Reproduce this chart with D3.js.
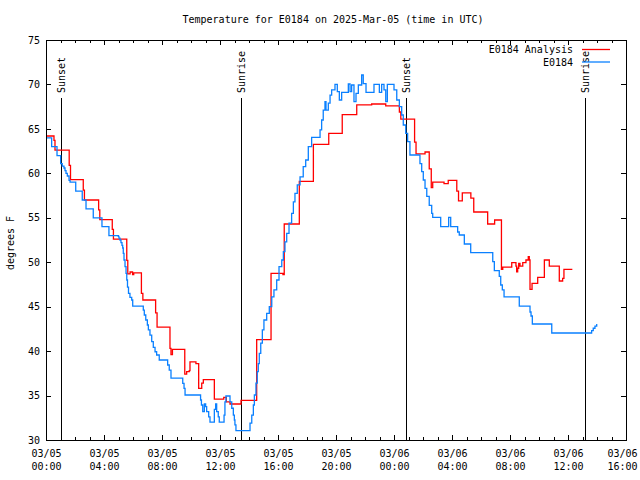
<!DOCTYPE html>
<html><head><meta charset="utf-8">
<script src="https://cdn.jsdelivr.net/npm/d3@7"></script>
<style>
body{margin:0;background:#fff}
svg text{font-family:"DejaVu Sans Mono",monospace;font-size:10px;fill:#000}
</style>
</head><body>
<svg id="chart" width="640" height="480"></svg>
<script>
// ---- data (hours since 2025-03-05 00:00 UTC, degrees F) ----
const titleText = "Temperature for E0184 on 2025-Mar-05 (time in UTC)";
const yLabelText = "degrees F";
const seriesNames = ["E0184 Analysis", "E0184"];
const seriesColors = ["#ff0000", "#0a80ff"];
const yTickValues = [30, 35, 40, 45, 50, 55, 60, 65, 70, 75];

const analysisHours = [0.00,0.55,0.62,1.60,1.69,2.57,2.65,3.63,3.71,4.57,4.65,5.57,5.64,5.80,5.97,6.05,6.58,6.68,7.56,7.66,
  8.55,8.62,8.72,9.57,9.70,9.88,9.93,10.34,10.53,10.74,10.85,11.61,12.26,12.44,12.69,13.45,14.53,15.52,16.34,16.43,
  17.47,18.44,19.50,20.43,21.43,22.46,23.43,24.37,24.47,25.42,25.52,26.14,26.43,26.57,26.67,27.45,27.74,28.33,28.45,28.71,
  29.30,29.50,30.46,30.94,31.41,31.50,32.12,32.41,32.46,32.53,32.60,32.69,32.88,33.10,33.26,33.33,33.38,33.52,33.91,34.37,
  34.71,35.40,35.63,35.72,36.30];
const analysisTemps = [64.2,63.7,62.6,60.9,59.3,58.1,57.0,55.9,54.8,53.7,52.6,50.2,48.7,48.9,48.6,48.8,46.5,45.75,44.3,42.7,
  40.3,39.6,40.2,37.4,37.7,37.8,38.8,38.6,35.8,36.4,36.8,34.6,34.8,34.3,34.05,34.45,41.3,48.75,48.6,54.3,
  59.1,63.25,64.5,66.6,67.7,67.8,67.6,66.9,66.1,63.5,62.2,62.4,60.5,58.4,59.0,58.85,59.2,58.0,56.9,57.8,
  57.2,55.65,54.3,54.75,49.2,49.45,49.95,49.57,48.93,49.32,49.88,49.57,49.95,50.25,50.62,50.25,46.95,47.63,48.3,50.25,
  49.57,47.89,48.19,49.2,49.2];

const obsHours = [0.00,0.39,0.76,1.01,1.12,1.24,1.31,1.38,1.47,1.59,1.66,2.05,2.50,2.76,3.26,3.86,4.34,4.99,5.03,5.10,
  5.17,5.24,5.29,5.33,5.38,5.45,5.52,5.57,5.62,5.69,5.79,5.91,5.98,6.71,6.78,6.88,6.99,7.06,7.17,7.29,
  7.40,7.52,7.63,7.81,8.39,8.50,8.62,9.43,9.52,9.59,10.66,10.72,10.81,10.92,11.01,11.08,11.22,11.31,11.61,11.70,
  11.77,11.88,11.95,12.28,12.34,12.41,12.69,12.81,12.92,12.99,13.03,13.10,14.07,14.19,14.30,14.37,14.48,14.57,14.64,14.71,
  14.81,14.92,15.03,15.22,15.40,15.57,15.72,15.91,16.07,16.26,16.37,16.48,16.60,16.76,16.94,17.06,17.17,17.33,17.52,17.74,
  17.91,18.09,18.32,18.90,19.01,19.12,19.24,19.31,19.47,19.59,19.70,19.93,20.09,20.23,20.39,20.85,20.97,21.08,21.24,21.38,
  21.54,21.77,21.88,22.07,22.62,22.99,23.15,23.31,23.43,23.54,24.00,24.19,24.37,24.53,24.64,24.81,24.94,25.10,25.79,25.91,
  26.02,26.14,26.26,26.43,26.60,26.67,27.22,27.77,27.91,28.39,28.50,28.85,29.29,30.81,30.92,31.26,31.36,31.47,31.59,32.64,
  33.38,33.45,33.54,34.88,37.52,37.63,37.74,37.86,37.98];
const obsTemps = [64,63,62,61.1,60.8,60.6,60.3,60.0,59.7,59.2,59,58,57,56,55,54,53,52.9,52.7,52.5,
  52.2,51.9,51.6,51.0,50.25,49.5,48.75,48.0,47.2,46.5,46.05,45.75,45.07,44.6,44.06,43.5,42.94,42.4,41.8,41.06,
  40.43,39.93,39.56,39.0,38.44,37.87,36.97,36.38,35.8,35.06,34.5,33.94,33.2,34.05,33.75,33.2,32.6,32.0,33.45,34.05,
  33.2,32.6,32.0,32.8,34.3,34.95,34.3,33.57,32.8,32.25,31.7,31.05,31.9,32.8,33.94,35.06,36.4,37.7,38.6,39.75,
  40.9,42.4,43.5,44.25,45.0,46.1,46.9,48.0,49.5,50.25,51.2,52.3,53.25,54.4,55.5,56.8,57.75,58.7,59.6,60.75,
  61.5,63.0,64.05,64.9,66.0,67.1,68.06,67.1,67.9,68.8,69.4,70.0,69.2,68.25,69.1,70.05,69.2,69.94,68.06,69.0,
  69.94,71.06,70.1,69.1,70.0,69.1,70.0,69.4,68.06,70.0,69.4,68.25,67.5,66.56,65.44,64.5,63.56,62.06,61.1,60.2,
  59.25,58.3,57.4,56.4,55.5,55.05,54.0,55.05,54.0,53.4,53.06,52.05,51.07,50.06,49.05,48.4,47.44,46.9,46.1,45.07,
  44.4,43.95,43.05,42.04,42.04,42.3,42.57,42.8,43.05];

const sunHours = [1.06, 13.47, 24.84, 37.2];
const sunLabels = ["Sunset", "Sunrise", "Sunset", "Sunrise"];

(function draw(){
  const mLeft = 46, mRight = 626, mTop = 40, mBottom = 440;
  const t0 = Date.UTC(2025, 2, 5, 0, 0);
  const t1 = Date.UTC(2025, 2, 6, 16, 0);
  const toDate = h => new Date(t0 + h * 3600e3);

  const svg = d3.select("#chart");
  const x = d3.scaleUtc().domain([new Date(t0), new Date(t1)]).range([mLeft, mRight]);
  const y = d3.scaleLinear().domain([30, 75]).range([mBottom, mTop]);

  svg.append("text").attr("x", 333).attr("y", 23).attr("text-anchor", "middle").text(titleText);
  svg.append("text").attr("transform", "translate(14,243) rotate(-90)")
    .attr("text-anchor", "middle").text(yLabelText);

  const majorTicks = d3.utcHour.every(4).range(new Date(t0), new Date(t1 + 1));
  const minorTicks = d3.utcHour.every(1).range(new Date(t0), new Date(t1 + 1));

  function strip(g){ g.select(".domain").remove(); g.selectAll("line").attr("stroke","#000").attr("shape-rendering","crispEdges"); }

  svg.append("g").attr("transform", `translate(0,${mBottom})`)
    .call(d3.axisBottom(x).tickValues(minorTicks).tickSize(-3).tickFormat(""))
    .call(strip);
  svg.append("g").attr("transform", `translate(0,${mTop})`)
    .call(d3.axisTop(x).tickValues(minorTicks).tickSize(-3).tickFormat(""))
    .call(strip);
  svg.append("g").attr("transform", `translate(0,${mTop})`)
    .call(d3.axisTop(x).tickValues(majorTicks).tickSize(-5).tickFormat(""))
    .call(strip);
  const xAxis = svg.append("g").attr("transform", `translate(0,${mBottom})`)
    .call(d3.axisBottom(x).tickValues(majorTicks).tickSize(-5).tickPadding(8).tickFormat(""))
    .call(strip);
  const fmtDay = d3.utcFormat("%m/%d"), fmtTime = d3.utcFormat("%H:%M");
  const nTicks = majorTicks.length;
  xAxis.selectAll(".tick").each(function(d, i){
    const t = d3.select(this).select("text").attr("dy", null).attr("y", null);
    // keep the last label inside the 640px picture, as the reference does
    const dx = (i === nTicks - 1) ? -4 : 0;
    t.append("tspan").attr("x", dx).attr("y", 17).text(fmtDay(d));
    t.append("tspan").attr("x", dx).attr("y", 30).text(fmtTime(d));
  });
  xAxis.attr("font-family", null).attr("font-size", null);

  const yAxis = svg.append("g").attr("transform", `translate(${mLeft},0)`)
    .call(d3.axisLeft(y).tickValues(yTickValues).tickSize(-5).tickPadding(6))
    .call(strip);
  yAxis.attr("font-family", null).attr("font-size", null);
  svg.append("g").attr("transform", `translate(${mRight},0)`)
    .call(d3.axisRight(y).tickValues(yTickValues).tickSize(-5).tickFormat(""))
    .call(strip);

  const sun = svg.append("g");
  sunHours.forEach((h, i) => {
    const sx = Math.round(x(toDate(h))) + 0.5;
    sun.append("line").attr("x1", sx).attr("x2", sx).attr("y1", 98).attr("y2", mBottom)
      .attr("stroke", "#000").attr("shape-rendering", "crispEdges");
    sun.append("text").attr("transform", `translate(${sx},93) rotate(-90)`)
      .attr("dominant-baseline", "central").attr("text-anchor", "start").text(sunLabels[i]);
  });

  const analysis = d3.zip(analysisHours, analysisTemps);
  const obs = d3.zip(obsHours, obsTemps);
  const line = d3.line().x(d => x(toDate(d[0]))).y(d => y(d[1])).curve(d3.curveStepAfter);
  svg.append("path").datum(analysis).attr("d", line).attr("fill", "none")
    .attr("stroke", seriesColors[0]).attr("stroke-width", 1.3);
  svg.append("path").datum(obs).attr("d", line).attr("fill", "none")
    .attr("stroke", seriesColors[1]).attr("stroke-width", 1.3);

  svg.append("rect").attr("x", mLeft + 0.5).attr("y", mTop + 0.5).attr("width", mRight - mLeft).attr("height", mBottom - mTop)
    .attr("fill", "none").attr("stroke", "#000").attr("shape-rendering", "crispEdges");

  seriesNames.forEach((n, i) => {
    const ly = 49.5 + i * 12.5;
    svg.append("text").attr("x", 573).attr("y", ly).attr("text-anchor", "end")
      .attr("dominant-baseline", "central").text(n);
    svg.append("line").attr("x1", 582).attr("x2", 610).attr("y1", ly).attr("y2", ly)
      .attr("stroke", seriesColors[i]).attr("stroke-width", 1.3);
  });
})();
</script>
</body></html>
